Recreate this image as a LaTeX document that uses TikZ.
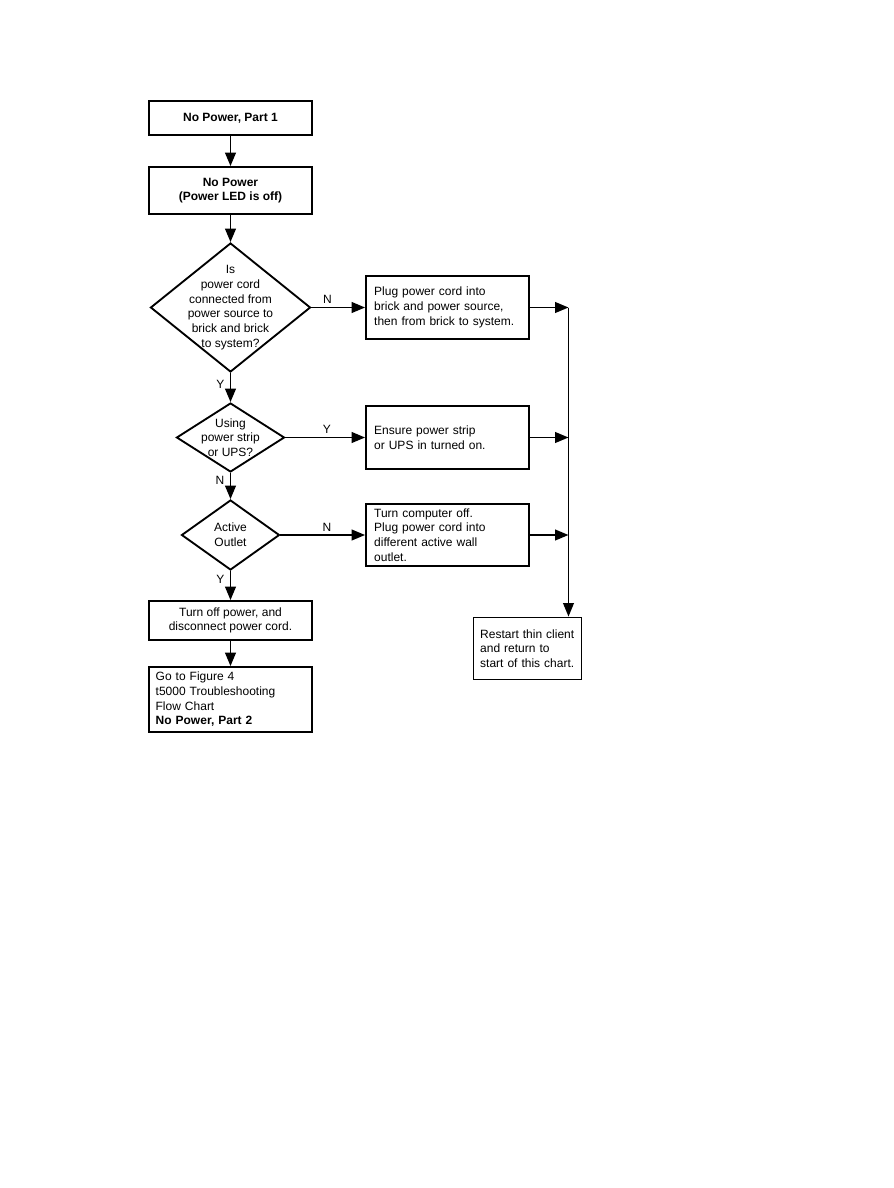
\documentclass[tikz,border=0pt]{standalone}
\usepackage{fontspec}
\setmainfont{Liberation Sans}
\usetikzlibrary{arrows.meta,shapes.geometric}

\begin{document}
\begin{tikzpicture}[->,>={Triangle[length=10pt,width=8pt]},line width=1.3pt,
                    node distance=2cm]
    \tikzset{box/.style={draw,rectangle,line width=1.4pt,align=center,
                         minimum width=122.25pt,inner sep=0pt,
                         font=\fontsize{9}{11}\selectfont},
             leftbox/.style={box,align=left,inner xsep=5pt},
             decision/.style={draw,diamond,line width=1.4pt,inner sep=0pt},
             dtext/.style={align=center,font=\fontsize{9}{11}\selectfont},
             lbl/.style={font=\fontsize{9}{11}\selectfont,inner sep=2pt}}
    \useasboundingbox (-172.875pt,88.5pt) rectangle (496.875pt,-802.5pt);
    % main column
    \node[box,minimum height=25.5pt,font=\fontsize{9}{11}\bfseries] (p1) {No Power, Part 1};
    \node[box,minimum height=35.25pt,font=\fontsize{9}{11}\bfseries] (p2) [below of=p1,node distance=54.375pt]
        {No Power\\(Power LED is off)};
    \node[decision,minimum width=120pt,minimum height=96.75pt] (q1) [below of=p2,node distance=87.75pt] {};
    \node[dtext] (q1t) at (q1) {Is\\power cord\\connected from\\power source to\\brick and brick\\to system?};
    \node[decision,minimum width=81pt,minimum height=51.75pt] (q2) [below of=q1,node distance=97.5pt] {};
    \node[dtext] (q2t) at (q2) {Using\\power strip\\or UPS?};
    \node[decision,minimum width=73.5pt,minimum height=52.5pt] (q3) [below of=q2,node distance=73.125pt] {};
    \node[dtext] (q3t) at (q3) {Active\\Outlet};
    \node[box,minimum height=29.25pt] (p3) [below of=q3,node distance=64.125pt]
        {Turn off power, and\\disconnect power cord.};
    \node[leftbox,text width=112.25pt,minimum height=48.75pt] (p4) [below of=p3,node distance=59.25pt]
        {Go to Figure 4\\t5000 Troubleshooting\\Flow Chart\\\textbf{No Power, Part 2}};
    % actions on the right
    \node[leftbox,text width=110pt,minimum height=47.25pt] (a1) [right of=q1,node distance=162.75pt]
        {Plug power cord into\\brick and power source,\\then from brick to system.};
    \node[leftbox,text width=110pt,minimum height=47pt] (a2) [right of=q2,node distance=162.75pt]
        {Ensure power strip\\or UPS in turned on.};
    \node[leftbox,text width=110pt,minimum height=47pt] (a3) [right of=q3,node distance=162.75pt]
        {Turn computer off.\\Plug power cord into\\different active wall\\outlet.};
    \node[leftbox,text width=71pt,minimum width=81pt,minimum height=46.5pt] (r)
        [below of=a3,node distance=85.125pt,xshift=60pt]
        {Restart thin client\\and return to\\start of this chart.};
    \coordinate[right of=a1,node distance=90.75pt] (bus);

    \path
    (p1) edge (p2)
    (p2) edge (q1)
    (q1) edge node[lbl,left,pos=0.4,inner sep=4pt]{Y} (q2)
    (q2) edge node[lbl,left,pos=0.3,inner sep=4pt]{N} (q3)
    (q3) edge node[lbl,left,pos=0.3,inner sep=4pt]{Y} (p3)
    (p3) edge (p4)
    (q1) edge node[lbl,above,pos=0.3]{N} (a1)
    (q2) edge node[lbl,above,pos=0.52]{Y} (a2)
    (q3) edge node[lbl,above,pos=0.55]{N} (a3)
    (a1) edge (bus)
    (a2) edge (a2 -| bus)
    (a3) edge (a3 -| bus);
    \draw[line width=1pt] (bus) -- (r.north -| bus);
\end{tikzpicture}
\end{document}
